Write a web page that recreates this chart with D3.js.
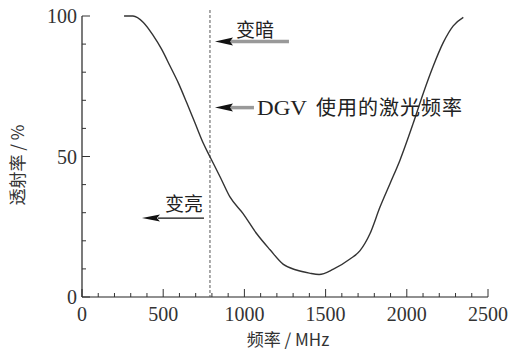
<!DOCTYPE html>
<html><head><meta charset="utf-8">
<script src="https://cdn.jsdelivr.net/npm/d3@7"></script>
<style>
html,body{margin:0;padding:0;background:#fff;}
svg{display:block;}
</style></head>
<body>
<script>
const freq = [259,314,378,439,490,542,593,645,696,747,788,850,911,993,1076,1158,1240,1320,1400,1460,1548,1650,1712,1773,1835,1897,1958,2040,2102,2163,2225,2286,2348];
const trans = [100,100,97.7,93,88.2,82.2,76.2,69.1,61.9,54.7,49.9,42.8,35.6,29.6,22.5,16.8,11.6,9.6,8.5,8.0,9.9,13.5,16.5,22.5,32,40.4,48.7,61.9,72.6,82.2,90.6,96.5,99.5];
const xTicks = [0,500,1000,1500,2000,2500];
const yTicks = [0,50,100];
const laserFreq = 788;
const annLabels = ["变暗","DGV 使用的激光频率","变亮"];
const annLevels = [90.9,67.4,28.1];
const xTitle = "频率 / MHz";
const yTitle = "透射率 / %";

const W=514,H=354;
const svg=d3.select("body").append("svg").attr("width",W).attr("height",H);
const x=d3.scaleLinear().domain([0,2500]).range([82,488]);
const y=d3.scaleLinear().domain([0,100]).range([297,16]);
const serif="'Liberation Serif','Times New Roman',serif";
const cjk="'Noto Sans CJK SC','Noto Sans CJK JP',sans-serif";

// axes
const gx=svg.append("g").attr("transform",`translate(0,${y(0)})`);
gx.append("line").attr("x1",x(0)).attr("x2",x(2500)).attr("stroke","#222").attr("stroke-width",1.2);
gx.selectAll("line.t").data(d3.range(0,2501,100)).join("line").attr("class","t")
  .attr("x1",d=>x(d)).attr("x2",d=>x(d)).attr("y1",0).attr("y2",d=>d%500===0?-8:-4)
  .attr("stroke","#333").attr("stroke-width",1);
gx.selectAll("text").data(xTicks).join("text")
  .attr("x",d=>x(d)).attr("y",24).attr("text-anchor","middle")
  .attr("font-family",serif).attr("font-size",20).attr("fill","#333").text(d=>d);

const gy=svg.append("g").attr("transform",`translate(${x(0)},0)`);
gy.append("line").attr("y1",y(0)).attr("y2",y(100)).attr("stroke","#222").attr("stroke-width",1.2);
gy.selectAll("line.t").data(d3.range(0,101,10)).join("line").attr("class","t")
  .attr("y1",d=>y(d)).attr("y2",d=>y(d)).attr("x1",0).attr("x2",d=>d%50===0?8:4)
  .attr("stroke","#333").attr("stroke-width",1);
gy.selectAll("text").data(yTicks).join("text")
  .attr("x",-5).attr("y",d=>y(d)).attr("dy","0.35em").attr("text-anchor","end")
  .attr("font-family",serif).attr("font-size",20).attr("fill","#333").text(d=>d);

// titles
svg.append("text").attr("x",288).attr("y",346).attr("text-anchor","middle")
  .attr("font-family",cjk).attr("font-size",17).attr("fill","#333").text(xTitle);
svg.append("text").attr("transform","translate(24,165) rotate(-90)").attr("text-anchor","middle")
  .attr("font-family",cjk).attr("font-size",17).attr("fill","#333").text(yTitle);

// dashed laser line
svg.append("line").attr("x1",x(laserFreq)).attr("x2",x(laserFreq)).attr("y1",10).attr("y2",y(0))
  .attr("stroke","#555").attr("stroke-width",1).attr("stroke-dasharray","3,2");

// curve
const pts=freq.map((f,i)=>[f,trans[i]]);
svg.append("path").datum(pts)
  .attr("d",d3.line().x(d=>x(d[0])).y(d=>y(d[1])).curve(d3.curveMonotoneX))
  .attr("fill","none").attr("stroke","#333").attr("stroke-width",1.4);

// annotations
const lx=x(laserFreq);
function arrowHead(tip,yy,len,half){
  svg.append("path").attr("d",`M${tip},${yy}L${tip+len},${yy-half}L${tip+len-3},${yy}L${tip+len},${yy+half}Z`).attr("fill","#111");
}
// 变暗
let ya=y(annLevels[0]);
svg.append("line").attr("x1",lx+18).attr("x2",lx+79).attr("y1",ya).attr("y2",ya).attr("stroke","#999").attr("stroke-width",3.5);
arrowHead(lx+5,ya,18,4);
svg.append("text").attr("x",lx+26).attr("y",ya-5).attr("font-family",cjk).attr("font-size",19).attr("fill","#222").text(annLabels[0]);
// DGV
let yb=y(annLevels[1]);
const [latinPart,cjkPart]=annLabels[1].split(" ");
svg.append("line").attr("x1",lx+18).attr("x2",lx+44).attr("y1",yb).attr("y2",yb).attr("stroke","#999").attr("stroke-width",3.5);
arrowHead(lx+5,yb,18,4);
svg.append("text").attr("x",lx+47).attr("y",yb).attr("dy","0.35em").attr("font-family",serif).attr("font-size",20).attr("fill","#222")
  .attr("textLength",50).attr("lengthAdjust","spacingAndGlyphs").text(latinPart);
svg.append("text").attr("x",lx+106).attr("y",yb).attr("dy","0.37em").attr("font-family",cjk).attr("font-size",20).attr("fill","#222")
  .attr("textLength",146).attr("lengthAdjust","spacing").text(cjkPart);
// 变亮
let yc=y(annLevels[2]);
svg.append("line").attr("x1",lx-52).attr("x2",lx-6).attr("y1",yc).attr("y2",yc).attr("stroke","#111").attr("stroke-width",1.2);
arrowHead(lx-68,yc,18,3.5);
svg.append("text").attr("x",lx-7).attr("y",yc-7).attr("text-anchor","end").attr("font-family",cjk).attr("font-size",19).attr("fill","#222").text(annLabels[2]);
</script>
</body></html>
